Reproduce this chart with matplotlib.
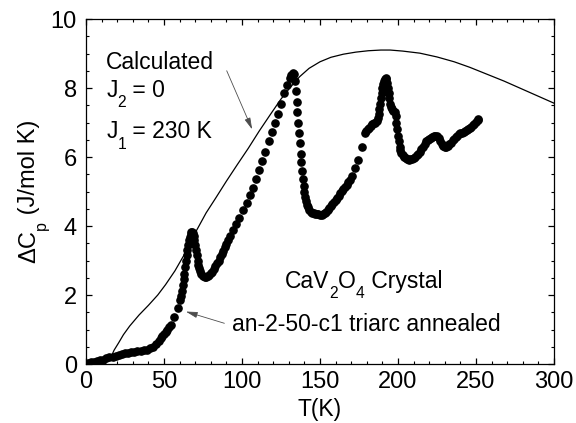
import matplotlib
matplotlib.use("Agg")
import matplotlib.pyplot as plt
from matplotlib.ticker import MultipleLocator
from matplotlib.transforms import IdentityTransform

plt.rcParams['font.family'] = ['Liberation Sans', 'DejaVu Sans']

# Measured data (T in K, Delta Cp in J/mol K)
T_meas = [1, 3, 5, 7, 9, 11, 13, 15, 17, 19, 21, 23, 25, 27, 29, 31, 33, 35, 37, 39,
          41, 43, 45, 47, 48, 49, 50, 51, 52, 53, 54.5, 56.6, 58.8,
          60.5, 61, 61.5, 62, 62.5, 63, 63.5, 64, 64.5, 65, 65.5, 66, 66.5, 67, 67.5, 68,
          68.5, 69, 69.5, 70, 70.5, 71, 71.5, 72, 72.5, 73, 74, 75, 76, 77, 78, 79, 80,
          81, 82, 83, 84, 85, 86, 87, 88, 89, 90, 91, 92.5, 94, 96, 98, 100.5, 103, 105,
          107, 109, 111, 113, 115, 117, 119, 121, 123, 125, 127, 129, 130.5, 131.5, 132.5,
          133, 133.5, 134, 134.5, 135, 135.5, 136, 136.5, 137, 137.5, 138, 138.5, 139,
          139.5, 140, 140.5, 141, 141.5, 142, 143, 144, 145, 146, 147, 148, 149, 150, 151,
          152, 153, 154, 155, 156, 157, 158, 159, 160, 161, 162, 163, 164, 165, 166, 167,
          168, 169, 170.5, 172.4, 174.6, 176.7, 178.8, 179.5, 180.5, 181.5, 182.5, 183.5,
          184.5, 185.5, 186.5, 187, 187.5, 188, 188.5, 189, 189.5, 190, 190.5, 191, 191.5,
          192, 192.5, 193, 193.5, 194, 194.5, 195, 195.5, 196, 197, 198, 198.5, 199, 199.5,
          200, 200.5, 201, 201.5, 202, 203, 204, 205, 206, 207, 208, 209, 210, 211, 212,
          213, 214, 215, 216, 217, 218, 219, 220, 221, 222, 223, 224, 225, 226, 227, 228,
          229, 230, 231, 232, 233, 234, 235, 236, 237, 238, 239, 240, 241, 242, 243, 244,
          245, 246, 247, 248, 249, 250, 251, 251.5]
Cp_meas = [0.04, 0.05, 0.07, 0.09, 0.11, 0.13, 0.16, 0.19, 0.21, 0.24, 0.27, 0.29, 0.31,
           0.33, 0.34, 0.36, 0.37, 0.38, 0.40, 0.42, 0.45, 0.50, 0.57, 0.68, 0.75, 0.82,
           0.88, 0.94, 1.00, 1.07, 1.13, 1.35, 1.61,
           1.85, 1.98, 2.12, 2.30, 2.45, 2.60, 2.80, 3.00, 3.15, 3.30, 3.45, 3.58, 3.68,
           3.76, 3.82, 3.84, 3.80, 3.72, 3.60, 3.45, 3.30, 3.15, 3.00, 2.88, 2.78, 2.70,
           2.62, 2.56, 2.53, 2.52, 2.54, 2.58, 2.63, 2.68, 2.75, 2.83, 2.92, 3.00, 3.09,
           3.18, 3.28, 3.38, 3.48, 3.58, 3.72, 3.88, 4.05, 4.22, 4.45, 4.66, 4.90, 5.10,
           5.35, 5.62, 5.88, 6.15, 6.45, 6.72, 7.00, 7.25, 7.55, 7.85, 8.10, 8.30, 8.38,
           8.42, 8.43, 8.40, 8.20, 7.90, 7.60, 7.30, 7.00, 6.70, 6.40, 6.10, 5.85, 5.60,
           5.35, 5.15, 5.00, 4.85, 4.72, 4.62, 4.55, 4.47, 4.42, 4.39, 4.37, 4.36, 4.35,
           4.34, 4.33, 4.32, 4.34, 4.37, 4.41, 4.46, 4.52, 4.58, 4.63, 4.69, 4.75, 4.81,
           4.88, 4.95, 5.02, 5.08, 5.14, 5.20, 5.27, 5.34, 5.45, 5.67, 5.91, 6.30, 6.69,
           6.75, 6.80, 6.85, 6.90, 6.95, 7.00, 7.00, 7.05, 7.12, 7.25, 7.40, 7.55, 7.70,
           7.85, 8.00, 8.12, 8.20, 8.26, 8.28, 8.25, 8.15, 8.00, 7.85, 7.70, 7.55, 7.45,
           7.38, 7.33, 7.30, 7.20, 7.00, 6.80, 6.60, 6.45, 6.30, 6.20, 6.12, 6.05, 6.00,
           5.96, 5.93, 5.92, 5.93, 5.95, 5.97, 6.00, 6.05, 6.10, 6.15, 6.22, 6.30, 6.38,
           6.45, 6.50, 6.53, 6.55, 6.57, 6.60, 6.62, 6.60, 6.55, 6.45, 6.38, 6.33, 6.30,
           6.30, 6.32, 6.37, 6.42, 6.48, 6.53, 6.57, 6.62, 6.66, 6.69, 6.71, 6.72, 6.74,
           6.77, 6.80, 6.83, 6.87, 6.92, 6.97, 7.02, 7.07, 7.10]

# Calculated curve (J2 = 0, J1 = 230 K)
T_calc = [16, 18, 21, 24, 28, 34, 40, 46, 51, 57, 64, 70, 77, 83, 90, 97, 104, 111, 118,
          125, 131, 137, 143, 150, 157, 165, 173, 181, 189, 195, 203, 214, 225, 236, 246,
          257, 268, 278, 289, 300]
Cp_calc = [0.20, 0.40, 0.62, 0.85, 1.10, 1.42, 1.70, 2.00, 2.30, 2.70, 3.25, 3.80, 4.38,
           4.80, 5.30, 5.78, 6.25, 6.75, 7.22, 7.68, 8.02, 8.33, 8.57, 8.76, 8.89, 8.98,
           9.04, 9.08, 9.10, 9.10, 9.07, 9.01, 8.90, 8.76, 8.60, 8.40, 8.20, 8.00, 7.78,
           7.56]

x_ticks = [0, 50, 100, 150, 200, 250, 300]
y_ticks = [0, 2, 4, 6, 8, 10]

W, H = 576, 423
fig = plt.figure(figsize=(W / 100, H / 100), dpi=100)
ax = fig.add_axes([86 / W, 59 / H, 468 / W, 345 / H])

ax.plot(T_calc, Cp_calc, color='black', lw=0.9, zorder=2)
ax.plot(T_meas, Cp_meas, 'o', color='black', ms=5.2, mec='black', zorder=3)

ax.set_xlim(0, 300)
ax.set_ylim(0, 10)
ax.set_xticks(x_ticks)
ax.set_yticks(y_ticks)
ax.xaxis.set_minor_locator(MultipleLocator(10))
ax.yaxis.set_minor_locator(MultipleLocator(0.5))
ax.tick_params(which='both', direction='in', top=True, right=True, labelsize=17)
ax.tick_params(which='major', length=4.5, width=0.9)
ax.tick_params(which='minor', length=2.5, width=0.8)
ax.tick_params(axis='x', which='major', pad=5)
ax.tick_params(axis='y', which='major', pad=6.5)
for s in ax.spines.values():
    s.set_linewidth(0.9)

fig.canvas.draw()
renderer = fig.canvas.get_renderer()
ident = IdentityTransform()


def rich_text(x0, y0, pieces, fs, rotate=False):
    """Draw text pieces [(str, is_sub), ...] starting at pixel (x0, y0) (display coords,
    baseline-left anchor)."""
    pos = x0 if not rotate else y0
    sub_size = fs * 0.68
    sub_drop = fs * 100 / 72 * 0.45
    for s, sub in pieces:
        size = sub_size if sub else fs
        if not rotate:
            t = fig.text(pos, y0 - (sub_drop if sub else 0), s, fontsize=size,
                         ha='left', va='baseline', transform=ident)
            ext = t.get_window_extent(renderer)
            pos = ext.x1
        else:
            t = fig.text(x0 + (sub_drop if sub else 0), pos, s, fontsize=size,
                         rotation=90, rotation_mode='anchor',
                         ha='left', va='baseline', transform=ident)
            ext = t.get_window_extent(renderer)
            pos = ext.y1


def data_px(x, y):
    return ax.transData.transform((x, y))


fs = 16.5
p = data_px(13, 8.56)
rich_text(p[0], p[1], [('Calculated', False)], fs)
p = data_px(13, 7.74)
rich_text(p[0], p[1], [('J', False), ('2', True), (' = 0', False)], fs)
p = data_px(13, 6.54)
rich_text(p[0], p[1], [('J', False), ('1', True), (' = 230 K', False)], fs)
p = data_px(127.5, 2.21)
rich_text(p[0], p[1], [('CaV', False), ('2', True), ('O', False), ('4', True),
                       (' Crystal', False)], fs)
p = data_px(93.3, 0.96)
rich_text(p[0], p[1], [('an-2-50-c1 triarc annealed', False)], fs)

# Axis labels
rich_text(35, H - 263, [('\u0394C', False), ('p', True), (' (J/mol K)', False)], 17,
          rotate=True)
fig.text(320 / W, 1 - 416 / H, 'T(K)', fontsize=16.5, ha='center', va='baseline')

arrow_kw = dict(arrowstyle='-|>,head_length=0.7,head_width=0.18', color='0.3', lw=0.6,
                shrinkA=0, shrinkB=0)
ax.annotate('', xy=(106.5, 6.8), xytext=(90.2, 8.5), arrowprops=arrow_kw)
ax.annotate('', xy=(64.0, 1.52), xytext=(88.7, 1.18), arrowprops=arrow_kw)

fig.savefig('out.png', dpi=100)
